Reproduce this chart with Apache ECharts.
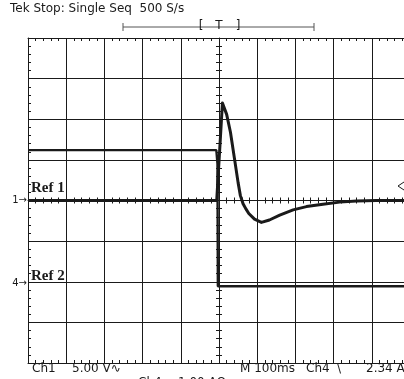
<!DOCTYPE html>
<html>
<head>
<meta charset="utf-8">
<script src="https://cdn.jsdelivr.net/npm/echarts@6/dist/echarts.min.js"></script>
<style>
html, body { margin: 0; padding: 0; background: #fff; }
#scope { width: 404px; height: 379px; }
</style>
</head>
<body>
<div id="scope"></div>
<script>
// horizontal: 100 ms/div, trigger at centre of screen
var timeRange = [-500, 500];
var timeStep = 100;
// vertical: graticule in divisions
var divRange = [-4, 4];

// Ch1 (Ref 1): 5 V/div, ground on centre line
var ch1Scale = 5;
var ch1Ground = 0;
var ch1Time = [-500, -6, 9, 12, 20, 30, 41, 50, 56, 63, 70, 78, 93, 111, 132, 159, 194, 229, 272, 316, 360, 412, 500];
var ch1Volts = [0, 0, 12.0, 12.1, 10.6, 8.4, 5.0, 2.2, 0.6, -0.4, -1.0, -1.6, -2.3, -2.7, -2.4, -1.8, -1.15, -0.75, -0.45, -0.2, -0.05, 0, 0];

// Ch4 (Ref 2): 1 A/div, ground two divisions below centre
var ch4Scale = 1;
var ch4Ground = -2;
var ch4Time = [-500, -7, -4, -3, 500];
var ch4Amps = [3.24, 3.24, 2.9, -0.11, -0.11];

var ink = '#1a1a1a';

function toTrace(times, vals, scale, ground) {
    var out = [];
    for (var i = 0; i < times.length; i++) {
        out.push([times[i], vals[i] / scale + ground]);
    }
    return out;
}

// one axis = one graticule line carrying minor ticks
function tickAxis(dim, position, offset, inside, showLine, showGrid) {
    var range = dim === 'x' ? timeRange : divRange;
    return {
        type: 'value',
        position: position,
        offset: offset,
        min: range[0],
        max: range[1],
        interval: dim === 'x' ? timeStep : 1,
        axisLine: { show: showLine, onZero: false, lineStyle: { color: ink, width: 1 } },
        axisTick: { show: true, inside: inside, length: 3, lineStyle: { color: ink, width: 1 } },
        minorTick: { show: true, splitNumber: 5, length: 3, lineStyle: { color: ink, width: 1 } },
        axisLabel: { show: false },
        splitLine: { show: showGrid, lineStyle: { color: ink, width: 1 } },
        minorSplitLine: { show: false }
    };
}

function txt(s, x, y, font, align) {
    return {
        type: 'text', silent: true,
        style: { text: s, x: x, y: y, font: font, fill: ink, align: align || 'left', verticalAlign: 'middle' }
    };
}

var sans = '12px "DejaVu Sans"';
var serif = 'bold 15px "Liberation Serif"';

var chart = echarts.init(document.getElementById('scope'), null, { renderer: 'canvas' });
chart.setOption({
    animation: false,
    backgroundColor: '#fff',
    grid: { left: 28, top: 38, width: 382, height: 325, outerBoundsMode: 'none' },
    xAxis: [
        tickAxis('x', 'bottom', 0, true, true, true),
        tickAxis('x', 'top', 0, true, true, false),
        tickAxis('x', 'bottom', -162.5, false, true, false),
        tickAxis('x', 'top', -162.5, false, false, false)
    ],
    yAxis: [
        tickAxis('y', 'left', 0, true, true, true),
        tickAxis('y', 'right', 0, true, true, false),
        tickAxis('y', 'left', -191, false, true, false),
        tickAxis('y', 'right', -191, false, false, false)
    ],
    series: [
        {
            name: 'Ch1', type: 'line', xAxisIndex: 0, yAxisIndex: 0,
            data: toTrace(ch1Time, ch1Volts, ch1Scale, ch1Ground),
            showSymbol: false, silent: true,
            lineStyle: { color: ink, width: 3, join: 'round' }
        },
        {
            name: 'Ch4', type: 'line', xAxisIndex: 0, yAxisIndex: 0,
            data: toTrace(ch4Time, ch4Amps, ch4Scale, ch4Ground),
            showSymbol: false, silent: true,
            lineStyle: { color: ink, width: 2.4 }
        }
    ],
    graphic: [
        txt('Tek Stop: Single Seq  500 S/s', 10, 9, sans),
        // record window bracket
        { type: 'line', silent: true, shape: { x1: 123, y1: 27, x2: 314, y2: 27 }, style: { stroke: '#555', lineWidth: 1 } },
        { type: 'line', silent: true, shape: { x1: 123, y1: 23, x2: 123, y2: 31 }, style: { stroke: '#555', lineWidth: 1 } },
        { type: 'line', silent: true, shape: { x1: 314, y1: 23, x2: 314, y2: 31 }, style: { stroke: '#555', lineWidth: 1 } },
        txt('[', 201, 26, sans, 'center'),
        txt('T', 219, 26, sans, 'center'),
        txt(']', 238, 26, sans, 'center'),
        // channel markers
        txt('1\u2192', 27, 200, '10px "DejaVu Sans"', 'right'),
        txt('4\u2192', 27, 283, '10px "DejaVu Sans"', 'right'),
        txt('Ref 1', 31, 188, serif),
        txt('Ref 2', 31, 276, serif),
        // trigger level
        { type: 'polyline', silent: true, shape: { points: [[404, 182], [398, 186], [404, 190]] }, style: { stroke: ink, lineWidth: 1, fill: 'none' } },
        // readouts
        txt('Ch1', 32, 369, sans),
        txt('5.00 V\u223F', 72, 369, sans),
        txt('M 100ms', 240, 369, sans),
        txt('Ch4', 306, 369, sans),
        txt('\\', 337, 369, sans),
        txt('2.34 A', 366, 369, sans),
        txt('Ch4', 138, 383, sans),
        txt('1.00 A\u03A9', 178, 383, sans)
    ]
});
</script>
</body>
</html>
